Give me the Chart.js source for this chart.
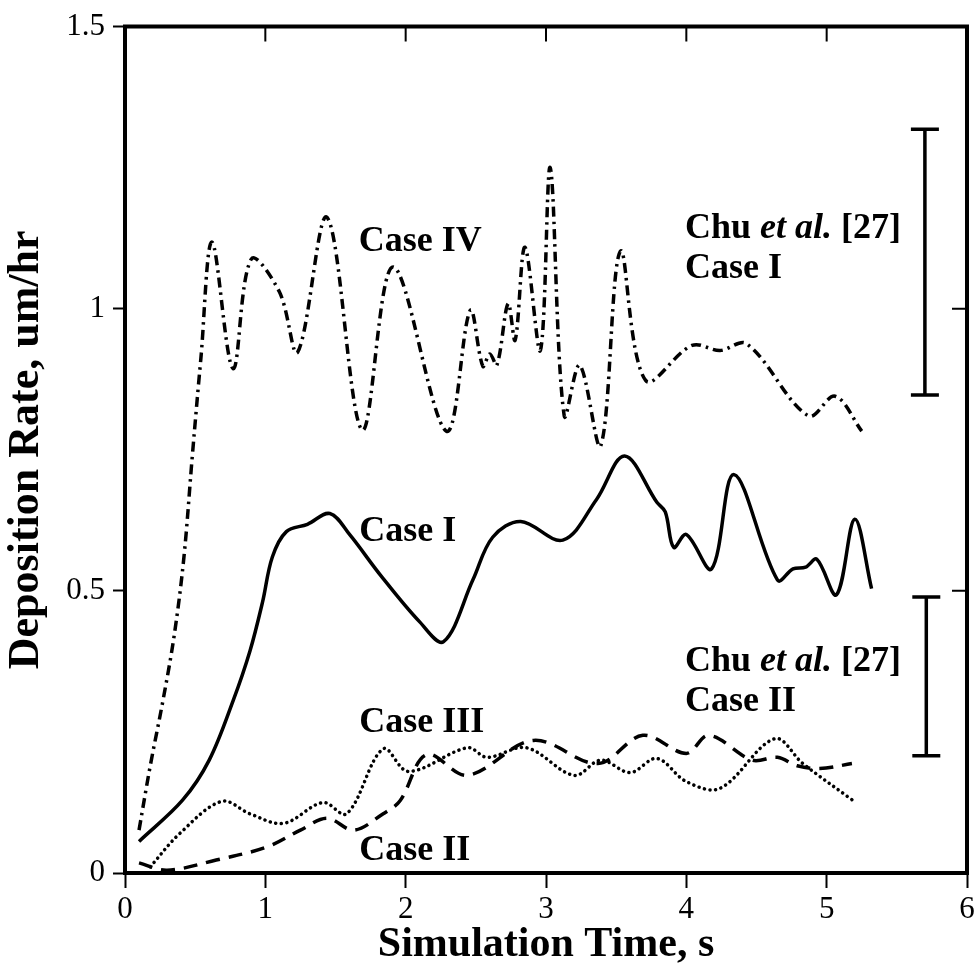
<!DOCTYPE html>
<html>
<head>
<meta charset="utf-8">
<script src="https://cdn.jsdelivr.net/npm/chart.js@4.4.1/dist/chart.umd.min.js"></script>
<style>
  html, body { margin: 0; padding: 0; background: #fff; }
  #wrap { width: 979px; height: 966px; }
</style>
</head>
<body>
<div id="wrap"><canvas id="depChart"></canvas></div>
<script>
// --- DATA ---
const case4X = [0.10, 0.18, 0.27, 0.35, 0.42, 0.48, 0.54, 0.62, 0.77, 0.90, 1.10, 1.23, 1.44, 1.69, 1.91, 2.29, 2.46, 2.55, 2.60, 2.65, 2.73, 2.78, 2.85, 2.96, 3.03, 3.13, 3.24, 3.39, 3.53, 3.71, 4.04, 4.24, 4.43, 4.87, 5.06, 5.25];
const case4Y = [0.076, 0.19, 0.305, 0.42, 0.56, 0.74, 0.91, 1.118, 0.894, 1.088, 1.03, 0.923, 1.162, 0.785, 1.074, 0.783, 0.997, 0.898, 0.92, 0.90, 1.009, 0.944, 1.109, 0.926, 1.25, 0.81, 0.90, 0.757, 1.102, 0.873, 0.935, 0.926, 0.938, 0.81, 0.845, 0.783];

const case1X = [0.10, 0.41, 0.60, 0.77, 0.89, 0.98, 1.05, 1.15, 1.30, 1.46, 1.60, 1.82, 2.10, 2.27, 2.48, 2.62, 2.82, 3.12, 3.36, 3.56, 3.79, 3.85, 3.91, 4.00, 4.18, 4.34, 4.65, 4.76, 4.85, 4.93, 5.07, 5.20, 5.32];
const case1Y = [0.056, 0.129, 0.20, 0.305, 0.393, 0.48, 0.56, 0.605, 0.618, 0.637, 0.60, 0.528, 0.445, 0.41, 0.52, 0.595, 0.623, 0.59, 0.662, 0.739, 0.657, 0.64, 0.577, 0.60, 0.539, 0.706, 0.519, 0.539, 0.542, 0.556, 0.493, 0.627, 0.504];

const case3X = [0.18, 0.39, 0.69, 0.89, 1.13, 1.41, 1.58, 1.84, 2.02, 2.44, 2.58, 2.86, 3.20, 3.39, 3.60, 3.79, 4.00, 4.24, 4.63, 4.83, 5.19];
const case3Y = [0.011, 0.07, 0.127, 0.105, 0.088, 0.125, 0.105, 0.22, 0.18, 0.222, 0.205, 0.222, 0.173, 0.20, 0.178, 0.203, 0.162, 0.15, 0.238, 0.194, 0.128];

const case2X = [0.10, 0.30, 0.65, 1.01, 1.25, 1.44, 1.63, 1.84, 1.96, 2.15, 2.44, 2.91, 3.37, 3.69, 4.00, 4.16, 4.47, 4.65, 4.79, 4.95, 5.18];
const case2Y = [0.018, 0.005, 0.023, 0.046, 0.076, 0.097, 0.076, 0.105, 0.128, 0.21, 0.173, 0.235, 0.194, 0.244, 0.212, 0.244, 0.20, 0.205, 0.19, 0.185, 0.194];

// Chu et al. [27] measured ranges (Case I, Case II)
const chuX = [5.70, 5.71];
const chuLow = [0.847, 0.208];
const chuHigh = [1.318, 0.489];

const xTicks = [0, 1, 2, 3, 4, 5, 6];
const yTicks = [0, 0.5, 1, 1.5];

// curve labels, anchored in data units (left / baseline)
const caseNames = ['Case IV', 'Case I', 'Case III', 'Case II'];
const caseNameX = [1.665, 1.67, 1.67, 1.67];
const caseNameY = [1.103, 0.588, 0.249, 0.023];
const chuNames = ['Case I', 'Case II'];
const chuNameX = [3.99, 3.99];
const chuNameY = [1.126, 0.358];

const SERIF = "'Liberation Serif', 'DejaVu Serif', serif";

function toPoints(xs, ys) {
    return xs.map((x, i) => ({ x: x, y: ys[i] }));
}

function lineSet(label, xs, ys, dash, cap) {
    return {
        label: label,
        data: toPoints(xs, ys),
        borderColor: '#000',
        borderWidth: 3.5,
        borderDash: dash,
        borderCapStyle: cap || 'butt',
        pointRadius: 0,
        fill: false,
        tension: 0.35
    };
}

// frame (top/right), inward ticks, error bars, text
const extrasPlugin = {
    id: 'extras',
    afterDatasetsDraw(chart) {
        const { ctx, chartArea: a, scales: { x, y } } = chart;
        ctx.save();
        ctx.strokeStyle = '#000';
        ctx.fillStyle = '#000';

        ctx.lineWidth = 4;
        ctx.beginPath();
        ctx.moveTo(a.left - 2, a.top);
        ctx.lineTo(a.right, a.top);
        ctx.lineTo(a.right, a.bottom + 2);
        ctx.stroke();

        ctx.lineWidth = 2;
        ctx.beginPath();
        xTicks.slice(1, -1).forEach(v => {
            const px = x.getPixelForValue(v);
            ctx.moveTo(px, a.top);
            ctx.lineTo(px, a.top + 15);
        });
        yTicks.slice(1, -1).forEach(v => {
            const py = y.getPixelForValue(v);
            ctx.moveTo(a.right, py);
            ctx.lineTo(a.right - 15, py);
        });
        ctx.stroke();

        // error bars
        ctx.lineWidth = 3.5;
        ctx.beginPath();
        chuX.forEach((v, i) => {
            const px = x.getPixelForValue(v);
            const pLo = y.getPixelForValue(chuLow[i]);
            const pHi = y.getPixelForValue(chuHigh[i]);
            ctx.moveTo(px, pLo); ctx.lineTo(px, pHi);
            ctx.moveTo(px - 14, pLo); ctx.lineTo(px + 14, pLo);
            ctx.moveTo(px - 14, pHi); ctx.lineTo(px + 14, pHi);
        });
        ctx.stroke();

        // labels
        ctx.textBaseline = 'alphabetic';
        ctx.textAlign = 'left';
        const bold = 'bold 36px ' + SERIF;
        const boldIt = 'italic bold 36px ' + SERIF;
        ctx.font = bold;
        caseNames.forEach((t, i) => {
            ctx.fillText(t, x.getPixelForValue(caseNameX[i]), y.getPixelForValue(caseNameY[i]));
        });
        chuNames.forEach((t, i) => {
            const px = x.getPixelForValue(chuNameX[i]);
            const py = y.getPixelForValue(chuNameY[i]);
            let cx = px;
            ctx.font = bold;
            ctx.fillText('Chu ', cx, py);
            cx += ctx.measureText('Chu ').width;
            ctx.font = boldIt;
            ctx.fillText('et al.', cx, py);
            cx += ctx.measureText('et al.').width;
            ctx.font = bold;
            ctx.fillText(' [27]', cx, py);
            ctx.fillText(t, px, py + 40);
        });
        ctx.restore();
    }
};

const ctx = document.getElementById('depChart').getContext('2d');
const depChart = new Chart(ctx, {
    type: 'line',
    data: {
        datasets: [
            lineSet('Case I', case1X, case1Y, []),
            lineSet('Case IV', case4X, case4Y, [10, 5, 2.5, 5]),
            lineSet('Case II', case2X, case2Y, [14, 9]),
            lineSet('Case III', case3X, case3Y, [0.1, 5.5], 'round')
        ]
    },
    options: {
        responsive: true,
        maintainAspectRatio: false,
        animation: false,
        layout: { padding: { top: 23, right: 12, left: 0, bottom: 0 } },
        plugins: { legend: { display: false }, tooltip: { enabled: false } },
        scales: {
            x: {
                type: 'linear',
                min: 0,
                max: 6,
                afterFit: s => { s.height = 93; },
                afterBuildTicks: s => { s.ticks = xTicks.map(v => ({ value: v })); },
                ticks: { color: '#000', padding: 3, maxRotation: 0, callback: v => String(v), font: { family: SERIF, size: 31 } },
                grid: { drawOnChartArea: false, drawTicks: true, tickLength: 15, tickWidth: 2, tickColor: '#000' },
                border: { display: true, color: '#000', width: 4 },
                title: {
                    display: true,
                    text: 'Simulation Time, s',
                    color: '#000',
                    padding: 0,
                    font: { family: SERIF, size: 42, weight: 'bold', lineHeight: 1.0 }
                }
            },
            y: {
                type: 'linear',
                min: 0,
                max: 1.5,
                afterFit: s => { s.width = 125; },
                afterBuildTicks: s => { s.ticks = yTicks.map(v => ({ value: v })); },
                ticks: { color: '#000', padding: 8, callback: v => String(v), font: { family: SERIF, size: 31 } },
                grid: { drawOnChartArea: false, drawTicks: true, tickLength: 12, tickWidth: 2, tickColor: '#000' },
                border: { display: true, color: '#000', width: 4 },
                title: {
                    display: true,
                    text: 'Deposition Rate, um/hr',
                    color: '#000',
                    padding: 0,
                    font: { family: SERIF, size: 44, weight: 'bold', lineHeight: 1.2 }
                }
            }
        }
    },
    plugins: [extrasPlugin]
});
</script>
</body>
</html>
